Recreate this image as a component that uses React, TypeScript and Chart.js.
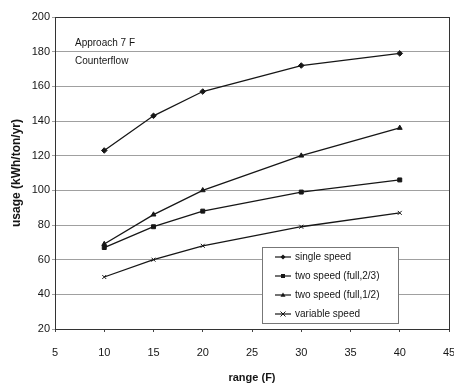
import React, { useEffect, useRef } from "react";
import { Chart, registerables } from "chart.js";

Chart.register(...registerables);

const rangeF = [10, 15, 20, 30, 40];
const singleSpeed = [123, 143, 157, 172, 179];
const twoSpeedTwoThirds = [67, 79, 88, 99, 106];
const twoSpeedHalf = [69, 86, 100, 120, 136];
const variableSpeed = [50, 60, 68, 79, 87];

const seriesLabels = [
  "single speed",
  "two speed (full,2/3)",
  "two speed (full,1/2)",
  "variable speed",
];
const pointStyles = ["rectRot", "rect", "triangle", "crossRot"];
const noteLines = ["Approach 7 F", "Counterflow"];

const FONT = "'Liberation Sans', Arial, sans-serif";
const INK = "#161616";

function marker(ctx: CanvasRenderingContext2D, style: string, x: number, y: number, r: number) {
  ctx.beginPath();
  if (style === "rectRot") {
    ctx.moveTo(x, y - r);
    ctx.lineTo(x + r, y);
    ctx.lineTo(x, y + r);
    ctx.lineTo(x - r, y);
    ctx.closePath();
    ctx.fill();
  } else if (style === "rect") {
    ctx.rect(x - r * 0.8, y - r * 0.8, r * 1.6, r * 1.6);
    ctx.fill();
  } else if (style === "triangle") {
    ctx.moveTo(x, y - r);
    ctx.lineTo(x + r, y + r * 0.7);
    ctx.lineTo(x - r, y + r * 0.7);
    ctx.closePath();
    ctx.fill();
  } else {
    ctx.moveTo(x - r, y - r);
    ctx.lineTo(x + r, y + r);
    ctx.moveTo(x + r, y - r);
    ctx.lineTo(x - r, y + r);
    ctx.stroke();
  }
}

const decorPlugin = {
  id: "decor",
  afterDraw(chart: any) {
    const { ctx, chartArea } = chart;
    ctx.save();
    // frame
    ctx.strokeStyle = "#333";
    ctx.lineWidth = 1;
    ctx.strokeRect(
      Math.round(chartArea.left) + 0.5,
      Math.round(chartArea.top) + 0.5,
      Math.round(chartArea.right - chartArea.left),
      Math.round(chartArea.bottom - chartArea.top)
    );
    // note text
    ctx.fillStyle = INK;
    ctx.font = `10px ${FONT}`;
    ctx.textBaseline = "middle";
    ctx.textAlign = "left";
    ctx.fillText(noteLines[0], 75, 43);
    ctx.fillText(noteLines[1], 75, 61);

    // legend
    const bx = 262, by = 247, bw = 136, bh = 76;
    ctx.fillStyle = "#fff";
    ctx.fillRect(bx, by, bw, bh);
    ctx.strokeStyle = "#777";
    ctx.strokeRect(bx + 0.5, by + 0.5, bw, bh);
    chart.data.datasets.forEach((ds: any, i: number) => {
      const y = 257 + i * 19;
      ctx.strokeStyle = INK;
      ctx.fillStyle = INK;
      ctx.lineWidth = 1.2;
      ctx.beginPath();
      ctx.moveTo(275, y);
      ctx.lineTo(291, y);
      ctx.stroke();
      ctx.lineWidth = 1;
      marker(ctx, ds.pointStyle, 283, y, 2.5);
      ctx.font = `10px ${FONT}`;
      ctx.textBaseline = "middle";
      ctx.fillText(ds.label, 295, y);
    });
    ctx.restore();
  },
};

export default function App() {
  const ref = useRef<HTMLCanvasElement>(null);
  useEffect(() => {
    const series = [singleSpeed, twoSpeedTwoThirds, twoSpeedHalf, variableSpeed];
    const chart = new Chart(ref.current!, {
      type: "line",
      data: {
        datasets: series.map((vals, i) => ({
          label: seriesLabels[i],
          data: rangeF.map((x, j) => ({ x, y: vals[j] })),
          borderColor: INK,
          backgroundColor: INK,
          borderWidth: 1.3,
          pointStyle: pointStyles[i] as any,
          pointRadius: 2.8,
          pointBorderWidth: 1,
          pointBackgroundColor: INK,
          pointBorderColor: INK,
          tension: 0,
          fill: false,
        })),
      },
      options: {
        animation: false,
        responsive: false,
        maintainAspectRatio: false,
        layout: { padding: { top: 17, left: 0, right: 0, bottom: 0 } },
        plugins: {
          legend: { display: false },
          tooltip: { enabled: false },
        },
        scales: {
          x: {
            type: "linear",
            min: 5,
            max: 45,
            ticks: {
              stepSize: 5,
              color: INK,
              font: { family: FONT, size: 11 },
              padding: 14,
              maxRotation: 0,
              autoSkip: false,
            },
            grid: { drawOnChartArea: false, drawTicks: true, tickLength: 3, color: "#444" },
            border: { color: "#333" },
            title: {
              display: true,
              text: "range (F)",
              color: INK,
              font: { family: FONT, size: 11, weight: "bold" },
              padding: { top: 0, bottom: 0 },
            },
            afterFit(scale: any) {
              scale.height = 56;
              scale.paddingRight = 5;
            },
          },
          y: {
            min: 20,
            max: 200,
            ticks: {
              stepSize: 20,
              color: INK,
              font: { family: FONT, size: 11 },
              padding: 2,
            },
            grid: { color: "#a0a0a0", lineWidth: 1, drawTicks: true, tickLength: 3 },
            border: { color: "#333" },
            title: {
              display: true,
              text: "usage (kWh/ton/yr)",
              color: INK,
              font: { family: FONT, size: 12, weight: "bold" },
              padding: { top: 9, bottom: 0 },
            },
            afterFit(scale: any) {
              scale.width = 55;
            },
          },
        },
      },
      plugins: [decorPlugin],
    } as any);
    return () => chart.destroy();
  }, []);
  return (
    <div style={{ position: "fixed", left: 0, top: 0, width: 454, height: 385, background: "#fff" }}>
      <canvas ref={ref} width={454} height={385} style={{ width: 454, height: 385 }} />
    </div>
  );
}
